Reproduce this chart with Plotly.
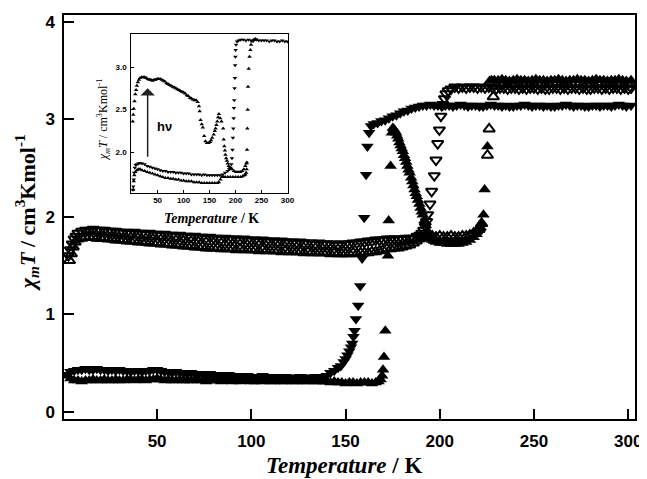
import plotly.graph_objects as go

# ---------------- main plot data ----------------
# filled down triangles (cooling)
T_cool_fill = [2.5, 4, 6, 8, 10, 12, 14, 16, 18, 20,
               22, 24, 26, 28, 30, 32, 34, 36, 38, 40,
               42, 44, 46, 48, 50, 52, 54, 56, 58, 60,
               62, 64, 66, 68, 70, 72, 74, 76, 78, 80,
               82, 84, 86, 88, 90, 92, 94, 96, 98, 100,
               102, 104, 106, 108, 110, 112, 114, 116, 118, 120,
               122, 124, 126, 128, 130, 132, 134, 136, 138, 140,
               142, 144, 146, 147.5, 149, 150, 151, 152, 152.9, 153.5,
               154.2, 154.8, 155.5, 156.7, 157.8, 158.8, 159.9, 160.9, 161.6, 162.5,
               163.5, 165, 167, 169, 171, 173, 175, 177, 179, 181,
               183, 185, 187, 189, 191, 193, 195, 197, 199, 201,
               203, 205, 207, 209, 211, 213, 215, 217, 219, 221,
               223, 225, 227, 229, 231, 233, 235, 237, 239, 241,
               243, 245, 247, 249, 251, 253, 255, 257, 259, 261,
               263, 265, 267, 269, 271, 273, 275, 277, 279, 281,
               283, 285, 287, 289, 291, 293, 295, 297, 299, 301.5]
V_cool_fill = [0.38, 0.41, 0.42, 0.43, 0.43, 0.44, 0.43, 0.43, 0.44, 0.43,
               0.43, 0.42, 0.43, 0.42, 0.43, 0.42, 0.42, 0.41, 0.42, 0.42,
               0.41, 0.42, 0.42, 0.43, 0.43, 0.42, 0.41, 0.41, 0.40, 0.41,
               0.40, 0.40, 0.39, 0.40, 0.39, 0.39, 0.39, 0.38, 0.39, 0.38,
               0.38, 0.38, 0.37, 0.38, 0.37, 0.37, 0.37, 0.36, 0.37, 0.36,
               0.36, 0.36, 0.37, 0.36, 0.36, 0.35, 0.36, 0.35, 0.36, 0.35,
               0.35, 0.35, 0.36, 0.35, 0.35, 0.35, 0.36, 0.35, 0.36, 0.37,
               0.40, 0.42, 0.45, 0.47, 0.51, 0.54, 0.58, 0.62, 0.66, 0.70,
               0.77, 0.83, 0.95, 1.09, 1.29, 1.57, 1.99, 2.43, 2.72, 2.86,
               2.93, 2.95, 2.96, 2.98, 2.99, 3.01, 3.03, 3.04, 3.06, 3.08,
               3.09, 3.11, 3.12, 3.13, 3.14, 3.14, 3.15, 3.14, 3.14, 3.13,
               3.14, 3.14, 3.13, 3.14, 3.15, 3.14, 3.13, 3.14, 3.14, 3.13,
               3.13, 3.14, 3.15, 3.14, 3.14, 3.13, 3.14, 3.13, 3.13, 3.14,
               3.14, 3.15, 3.14, 3.13, 3.14, 3.14, 3.13, 3.14, 3.13, 3.13,
               3.14, 3.14, 3.15, 3.14, 3.13, 3.14, 3.14, 3.13, 3.13, 3.14,
               3.14, 3.13, 3.14, 3.14, 3.13, 3.14, 3.15, 3.14, 3.13, 3.14]

# filled up triangles (heating)
T_heat_fill = [2.5, 4, 6, 8, 10, 12, 14, 16, 18, 20,
               22, 24, 26, 28, 30, 32, 34, 36, 38, 40,
               42, 44, 46, 48, 50, 52, 54, 56, 58, 60,
               62, 64, 66, 68, 70, 72, 74, 76, 78, 80,
               82, 84, 86, 88, 90, 92, 94, 96, 98, 100,
               102, 104, 106, 108, 110, 112, 114, 116, 118, 120,
               122, 124, 126, 128, 130, 132, 134, 136, 138, 140,
               142, 144, 146, 148, 150, 152, 154, 156, 158, 160,
               162, 164, 166, 167.5, 168.6, 169.4, 169.9, 170.4, 171.1, 172.5,
               172.9, 173.9, 174.6, 175.1, 175.6, 176.2, 176.8, 177.4, 178, 178.6,
               179.2, 179.8, 180.4, 181, 181.6, 182.2, 182.8, 183.4, 184, 184.8,
               185.4, 186, 186.6, 187.2, 187.8, 188.4, 189.2, 189.8, 190.4, 191,
               191.9, 192.6, 193.6, 194.4, 195.2, 196, 197, 198, 200, 202,
               204, 206, 208, 210, 212, 214, 216, 218, 219.5, 220.8,
               221.7, 222.4, 223.2, 223.8, 225.3, 226.4, 227.5, 229, 231, 233,
               235, 237, 239, 241, 243, 245, 247, 249, 251, 253,
               255, 257, 259, 261, 263, 265, 267, 269, 271, 273,
               275, 277, 279, 281, 283, 285, 287, 289, 291, 293,
               295, 297, 299, 301.5]
V_heat_fill = [0.37, 0.34, 0.32, 0.32, 0.31, 0.32, 0.32, 0.33, 0.32, 0.32,
               0.33, 0.32, 0.32, 0.33, 0.32, 0.32, 0.33, 0.33, 0.32, 0.33,
               0.33, 0.32, 0.33, 0.33, 0.34, 0.33, 0.32, 0.33, 0.32, 0.32,
               0.33, 0.32, 0.32, 0.32, 0.33, 0.32, 0.32, 0.31, 0.32, 0.32,
               0.32, 0.31, 0.32, 0.32, 0.31, 0.32, 0.31, 0.32, 0.32, 0.31,
               0.31, 0.32, 0.31, 0.32, 0.31, 0.31, 0.32, 0.31, 0.31, 0.32,
               0.31, 0.31, 0.32, 0.31, 0.31, 0.32, 0.31, 0.31, 0.31, 0.31,
               0.30, 0.31, 0.30, 0.30, 0.29, 0.30, 0.30, 0.29, 0.30, 0.30,
               0.30, 0.29, 0.30, 0.31, 0.33, 0.37, 0.43, 0.56, 0.83, 1.60,
               1.96, 2.52, 2.86, 2.91, 2.90, 2.88, 2.86, 2.83, 2.80, 2.76,
               2.73, 2.70, 2.67, 2.63, 2.60, 2.56, 2.52, 2.48, 2.45, 2.40,
               2.36, 2.32, 2.28, 2.24, 2.21, 2.17, 2.13, 2.09, 2.05, 2.02,
               1.96, 1.91, 1.85, 1.81, 1.78, 1.76, 1.75, 1.74, 1.73, 1.73,
               1.72, 1.72, 1.72, 1.72, 1.73, 1.74, 1.76, 1.79, 1.82, 1.86,
               1.89, 1.93, 2.02, 2.28, 2.72, 3.39, 3.40, 3.40, 3.40, 3.41,
               3.40, 3.39, 3.40, 3.41, 3.40, 3.40, 3.39, 3.40, 3.41, 3.40,
               3.40, 3.39, 3.40, 3.40, 3.41, 3.40, 3.39, 3.40, 3.40, 3.41,
               3.40, 3.40, 3.39, 3.40, 3.41, 3.40, 3.40, 3.39, 3.40, 3.40,
               3.41, 3.40, 3.39, 3.40]

# open down triangles (cooling)
T_cool_open = [3, 4, 5, 6, 7, 8, 10, 12, 14, 16,
               18, 20, 22, 24, 26, 28, 30, 32, 34, 36,
               38, 40, 42, 44, 46, 48, 50, 52, 54, 56,
               58, 60, 62, 64, 66, 68, 70, 72, 74, 76,
               78, 80, 82, 84, 86, 88, 90, 92, 94, 96,
               98, 100, 102, 104, 106, 108, 110, 112, 114, 116,
               118, 120, 122, 124, 126, 128, 130, 132, 134, 136,
               138, 140, 142, 144, 146, 148, 150, 152, 154, 156,
               158, 160, 162, 164, 166, 168, 170, 172, 174, 176,
               178, 180, 182, 184, 186, 188, 189.5, 190.5, 191.5, 192.3,
               193, 193.6, 194.8, 195.7, 197.1, 198, 198.9, 199.8, 200.6, 201.6,
               202.5, 203.3, 204.5, 206, 208, 210, 212, 214, 216, 218,
               220, 222, 224, 226, 228, 230, 232, 234, 236, 238,
               240, 242, 244, 246, 248, 250, 252, 254, 256, 258,
               260, 262, 264, 266, 268, 270, 272, 274, 276, 278,
               280, 282, 284, 286, 288, 290, 292, 294, 296, 298,
               300, 301.5]
V_cool_open = [1.60, 1.66, 1.72, 1.77, 1.80, 1.83, 1.85, 1.86, 1.86, 1.87,
               1.86, 1.86, 1.86, 1.85, 1.85, 1.85, 1.84, 1.84, 1.84, 1.83,
               1.84, 1.83, 1.83, 1.82, 1.83, 1.82, 1.82, 1.81, 1.82, 1.81,
               1.81, 1.80, 1.81, 1.80, 1.80, 1.79, 1.80, 1.79, 1.79, 1.78,
               1.79, 1.78, 1.78, 1.77, 1.78, 1.77, 1.77, 1.77, 1.76, 1.77,
               1.76, 1.76, 1.76, 1.75, 1.76, 1.75, 1.75, 1.75, 1.74, 1.75,
               1.74, 1.74, 1.74, 1.73, 1.74, 1.73, 1.73, 1.73, 1.72, 1.73,
               1.72, 1.72, 1.72, 1.72, 1.71, 1.72, 1.72, 1.72, 1.73, 1.73,
               1.74, 1.74, 1.75, 1.75, 1.76, 1.76, 1.76, 1.77, 1.77, 1.77,
               1.77, 1.77, 1.78, 1.78, 1.78, 1.80, 1.81, 1.83, 1.86, 1.90,
               1.95, 2.02, 2.13, 2.26, 2.42, 2.58, 2.75, 2.89, 3.03, 3.15,
               3.21, 3.26, 3.29, 3.31, 3.33, 3.32, 3.33, 3.32, 3.33, 3.33,
               3.32, 3.33, 3.32, 3.33, 3.32, 3.31, 3.32, 3.32, 3.31, 3.32,
               3.32, 3.31, 3.32, 3.31, 3.32, 3.32, 3.31, 3.32, 3.31, 3.31,
               3.32, 3.32, 3.31, 3.32, 3.31, 3.32, 3.32, 3.31, 3.32, 3.31,
               3.31, 3.32, 3.32, 3.31, 3.32, 3.31, 3.32, 3.32, 3.31, 3.32,
               3.31, 3.32]

# open up triangles (heating)
T_heat_open = [3.5, 4.5, 5.5, 6.5, 8, 10, 12, 14, 16, 18,
               20, 22, 24, 26, 28, 30, 32, 34, 36, 38,
               40, 42, 44, 46, 48, 50, 52, 54, 56, 58,
               60, 62, 64, 66, 68, 70, 72, 74, 76, 78,
               80, 82, 84, 86, 88, 90, 92, 94, 96, 98,
               100, 102, 104, 106, 108, 110, 112, 114, 116, 118,
               120, 122, 124, 126, 128, 130, 132, 134, 136, 138,
               140, 142, 144, 146, 148, 150, 152, 154, 156, 158,
               160, 162, 164, 166, 168, 170, 172, 174, 176, 178,
               180, 182, 184, 186, 187.5, 189, 190.5, 192, 194, 196,
               198, 200, 202, 204, 206, 208, 210, 212, 214, 216,
               218, 219.5, 221, 222.2, 225.3, 226.2, 228.4, 230, 232, 234,
               236, 238, 240, 242, 244, 246, 248, 250, 252, 254,
               256, 258, 260, 262, 264, 266, 268, 270, 272, 274,
               276, 278, 280, 282, 284, 286, 288, 290, 292, 294,
               296, 298, 300, 301.5]
V_heat_open = [1.55, 1.62, 1.69, 1.74, 1.77, 1.78, 1.79, 1.79, 1.79, 1.78,
               1.78, 1.78, 1.77, 1.77, 1.76, 1.76, 1.76, 1.75, 1.75, 1.75,
               1.74, 1.74, 1.74, 1.73, 1.73, 1.73, 1.72, 1.72, 1.72, 1.71,
               1.71, 1.71, 1.70, 1.70, 1.70, 1.69, 1.69, 1.69, 1.68, 1.68,
               1.68, 1.68, 1.67, 1.67, 1.67, 1.67, 1.66, 1.67, 1.66, 1.66,
               1.66, 1.66, 1.65, 1.66, 1.65, 1.65, 1.65, 1.65, 1.64, 1.65,
               1.64, 1.64, 1.64, 1.64, 1.63, 1.64, 1.63, 1.63, 1.63, 1.63,
               1.63, 1.62, 1.63, 1.62, 1.62, 1.62, 1.62, 1.63, 1.62, 1.63,
               1.63, 1.63, 1.64, 1.64, 1.65, 1.66, 1.67, 1.67, 1.68, 1.68,
               1.69, 1.70, 1.71, 1.73, 1.75, 1.77, 1.78, 1.79, 1.79, 1.80,
               1.79, 1.80, 1.79, 1.79, 1.80, 1.79, 1.79, 1.80, 1.80, 1.81,
               1.83, 1.85, 1.88, 1.93, 2.63, 2.90, 3.23, 3.34, 3.36, 3.36,
               3.35, 3.36, 3.36, 3.35, 3.36, 3.37, 3.36, 3.35, 3.36, 3.36,
               3.35, 3.36, 3.37, 3.36, 3.36, 3.35, 3.36, 3.36, 3.37, 3.36,
               3.35, 3.36, 3.36, 3.35, 3.36, 3.37, 3.36, 3.36, 3.35, 3.36,
               3.36, 3.35, 3.36, 3.36]

# ---------------- inset data ----------------
T_in_cool = [300, 295, 290, 285, 280, 275, 270, 265, 260, 255,
             250, 245, 240, 235, 230, 225, 220, 215, 210, 206,
             203, 201, 200.3, 199.8, 199.3, 198.8, 198.2, 197.6, 197, 196.4,
             195.8, 195, 194.2, 193.2, 192, 190, 188, 185, 180, 175,
             170, 165, 160, 155, 150, 145, 140, 135, 130, 125,
             120, 115, 110, 105, 100, 95, 90, 85, 80, 75,
             70, 65, 60, 55, 50, 45, 40, 35, 30, 25,
             20, 16, 13, 10, 8, 6, 5, 4, 3, 2.5]
V_in_cool = [3.30, 3.30, 3.31, 3.30, 3.30, 3.31, 3.31, 3.30, 3.31, 3.31,
             3.31, 3.31, 3.32, 3.31, 3.31, 3.32, 3.31, 3.32, 3.32, 3.31,
             3.30, 3.26, 3.20, 3.12, 3.02, 2.87, 2.75, 2.61, 2.52, 2.40,
             2.28, 2.17, 2.03, 1.93, 1.86, 1.82, 1.80, 1.78, 1.76, 1.74,
             1.73, 1.73, 1.73, 1.73, 1.73, 1.73, 1.74, 1.73, 1.74, 1.74,
             1.74, 1.74, 1.75, 1.75, 1.75, 1.76, 1.76, 1.76, 1.77, 1.77,
             1.77, 1.78, 1.78, 1.79, 1.80, 1.81, 1.82, 1.83, 1.84, 1.86,
             1.87, 1.875, 1.87, 1.86, 1.85, 1.82, 1.76, 1.68, 1.60, 1.56]

T_in_heat = [3, 4, 5, 7, 10, 13, 16, 20, 25, 30,
             35, 40, 45, 50, 55, 60, 65, 70, 75, 80,
             85, 90, 95, 100, 105, 110, 115, 120, 125, 130,
             135, 140, 145, 150, 155, 160, 165, 168, 171, 174,
             177, 180, 185, 190, 195, 200, 205, 210, 214, 217,
             219, 220.5, 221.5, 222.2, 222.8, 223.5, 224.1, 225.5, 227, 228.6,
             229.9, 232, 235, 238, 241]
V_in_heat = [1.56, 1.66, 1.73, 1.77, 1.79, 1.80, 1.80, 1.79, 1.78, 1.77,
             1.76, 1.75, 1.74, 1.73, 1.72, 1.71, 1.70, 1.70, 1.69, 1.69,
             1.68, 1.68, 1.67, 1.67, 1.66, 1.66, 1.66, 1.65, 1.65, 1.65,
             1.64, 1.64, 1.64, 1.64, 1.64, 1.64, 1.64, 1.65, 1.68, 1.71,
             1.71, 1.71, 1.71, 1.71, 1.71, 1.71, 1.71, 1.71, 1.72, 1.73,
             1.74, 1.76, 1.80, 2.03, 2.28, 2.50, 2.77, 2.98, 3.12, 3.20,
             3.26, 3.30, 3.32, 3.33, 3.32]

T_in_photo = [2, 3, 4, 5.5, 7, 8.5, 10, 12, 14, 16,
              19, 22, 25, 28, 31, 34, 37, 40, 43, 46,
              49, 52, 55, 58, 61, 64, 67, 70, 73, 76,
              79, 82, 85, 88, 91, 94, 97, 100, 103, 106,
              109, 112, 115, 118, 121, 124, 127, 129.6, 131, 132.8,
              135, 137, 139.6, 142, 145, 148, 151, 153, 155, 158,
              160, 161.6, 163.2, 164.8, 166.5, 168, 170.5, 173, 176.2, 177.3,
              178.5, 179.6, 180.6, 182, 183.5, 185, 186.9, 189, 191, 193.4,
              197, 201, 205, 209, 213, 216, 219, 221, 222]
V_in_photo = [2.36, 2.44, 2.51, 2.60, 2.68, 2.73, 2.78, 2.82, 2.85, 2.87,
              2.88, 2.88, 2.88, 2.87, 2.86, 2.85, 2.85, 2.84, 2.85, 2.85,
              2.86, 2.86, 2.86, 2.85, 2.84, 2.83, 2.81, 2.80, 2.79, 2.78,
              2.77, 2.76, 2.75, 2.74, 2.73, 2.72, 2.71, 2.70, 2.69, 2.67,
              2.66, 2.64, 2.63, 2.62, 2.61, 2.61, 2.59, 2.54, 2.48, 2.38,
              2.33, 2.29, 2.19, 2.13, 2.11, 2.11, 2.12, 2.14, 2.17, 2.21,
              2.25, 2.28, 2.32, 2.36, 2.41, 2.45, 2.40, 2.36, 2.28, 2.15,
              2.07, 2.02, 1.97, 1.93, 1.90, 1.87, 1.84, 1.82, 1.81, 1.80,
              1.78, 1.77, 1.77, 1.77, 1.78, 1.80, 1.84, 1.87, 1.88]

main_xticks = [50, 100, 150, 200, 250, 300]
main_yticks = [0, 1, 2, 3, 4]
inset_xticks = [50, 100, 150, 200, 250, 300]
inset_yticks = [2.0, 2.5, 3.0]
inset_yticklabels = ["2.0", "2.5", "3.0"]

fig = go.Figure()

MS = 11
fig.add_trace(go.Scatter(x=T_cool_fill, y=V_cool_fill, mode="markers",
                         marker=dict(symbol="triangle-down", size=MS, color="black", line=dict(width=0)),
                         xaxis="x", yaxis="y"))
fig.add_trace(go.Scatter(x=T_heat_fill, y=V_heat_fill, mode="markers",
                         marker=dict(symbol="triangle-up", size=MS, color="black", line=dict(width=0)),
                         xaxis="x", yaxis="y"))
fig.add_trace(go.Scatter(x=T_cool_open, y=V_cool_open, mode="markers",
                         marker=dict(symbol="triangle-down-open", size=MS - 1, color="black",
                                     line=dict(width=2.0, color="black")),
                         xaxis="x", yaxis="y"))
fig.add_trace(go.Scatter(x=T_heat_open, y=V_heat_open, mode="markers",
                         marker=dict(symbol="triangle-up-open", size=MS - 1, color="black",
                                     line=dict(width=2.0, color="black")),
                         xaxis="x", yaxis="y"))

IMS = 4
fig.add_trace(go.Scatter(x=T_in_cool, y=V_in_cool, mode="markers",
                         marker=dict(symbol="triangle-down", size=IMS, color="black"),
                         xaxis="x2", yaxis="y2"))
fig.add_trace(go.Scatter(x=T_in_heat, y=V_in_heat, mode="markers",
                         marker=dict(symbol="triangle-up", size=IMS, color="black"),
                         xaxis="x2", yaxis="y2"))
fig.add_trace(go.Scatter(x=T_in_photo, y=V_in_photo, mode="markers",
                         marker=dict(symbol="triangle-up", size=IMS, color="black"),
                         xaxis="x2", yaxis="y2"))

tickfont_main = dict(family="Liberation Sans", size=17, color="black", weight="bold")
tickfont_in = dict(family="Liberation Sans", size=8, color="black", weight="bold")

# page body has an 8 px margin, so the figure is sized / offset to compensate
fig.update_layout(
    width=639, height=471,
    margin=dict(l=56, r=8, t=5, b=60),
    plot_bgcolor="white", paper_bgcolor="white",
    showlegend=False,
    xaxis=dict(range=[0.6, 303.6], tickvals=main_xticks, ticks="inside", ticklen=10, tickwidth=1.5,
               tickcolor="black", showline=True, linewidth=1.5, linecolor="black", mirror=True,
               showgrid=False, zeroline=False, tickfont=tickfont_main, ticklabelstandoff=6),
    yaxis=dict(range=[-0.0745, 4.068], tickvals=main_yticks, ticks="inside", ticklen=10, tickwidth=1.5,
               tickcolor="black", showline=True, linewidth=1.5, linecolor="black", mirror=True,
               showgrid=False, zeroline=False, tickfont=tickfont_main, ticklabelstandoff=4),
    xaxis2=dict(domain=[0.1177, 0.3930], anchor="y2", range=[-0.9, 301.9], tickvals=inset_xticks,
                ticks="inside", ticklen=3, tickwidth=1, tickcolor="black", showline=True, linewidth=1,
                linecolor="black", mirror=True, showgrid=False, zeroline=False, tickfont=tickfont_in,
                ticklabelstandoff=0),
    yaxis2=dict(domain=[0.5599, 0.9525], anchor="x2", range=[1.525, 3.385], tickvals=inset_yticks,
                ticktext=inset_yticklabels, ticks="inside", ticklen=3, tickwidth=1, tickcolor="black",
                showline=True, linewidth=1, linecolor="black", mirror=True, showgrid=False,
                zeroline=False, tickfont=tickfont_in, ticklabelstandoff=2),
)

serif = "Liberation Serif"
annotations = [
    dict(text="<b><i>Temperature</i> / K</b>", xref="paper", yref="paper", x=0.4896, y=-0.115,
         xanchor="center", yanchor="middle", showarrow=False,
         font=dict(family=serif, size=23, color="black")),
    dict(text="<b><i>χ<sub>m</sub>T</i> / cm<sup>3</sup>Kmol<sup>-1</sup></b>", xref="paper", yref="paper",
         x=-0.0643, y=0.51, xanchor="center", yanchor="middle", textangle=-90, showarrow=False,
         font=dict(family=serif, size=22, color="black")),
    dict(text="<b><i>Temperature</i> / K</b>", xref="paper", yref="paper", x=0.2591, y=0.4975,
         xanchor="center", yanchor="middle", showarrow=False,
         font=dict(family=serif, size=14, color="black")),
    dict(text="<i>χ<sub>m</sub>T</i> / cm<sup>3</sup>Kmol<sup>-1</sup>", xref="paper", yref="paper",
         x=0.0696, y=0.7414, xanchor="center", yanchor="middle", textangle=-90, showarrow=False,
         font=dict(family=serif, size=12, color="black")),
    dict(text="<b>hν</b>", xref="x2", yref="y2", x=64, y=2.30, xanchor="center", yanchor="middle",
         showarrow=False, font=dict(family="Liberation Sans", size=13, color="black")),
    dict(text="", xref="x2", yref="y2", x=30.8, y=2.75, axref="x2", ayref="y2", ax=30.8, ay=1.93,
         showarrow=True, arrowhead=1, arrowsize=1.6, arrowwidth=1.5, arrowcolor="#222"),
]
fig.update_layout(annotations=annotations)

fig.write_html("out.html")
